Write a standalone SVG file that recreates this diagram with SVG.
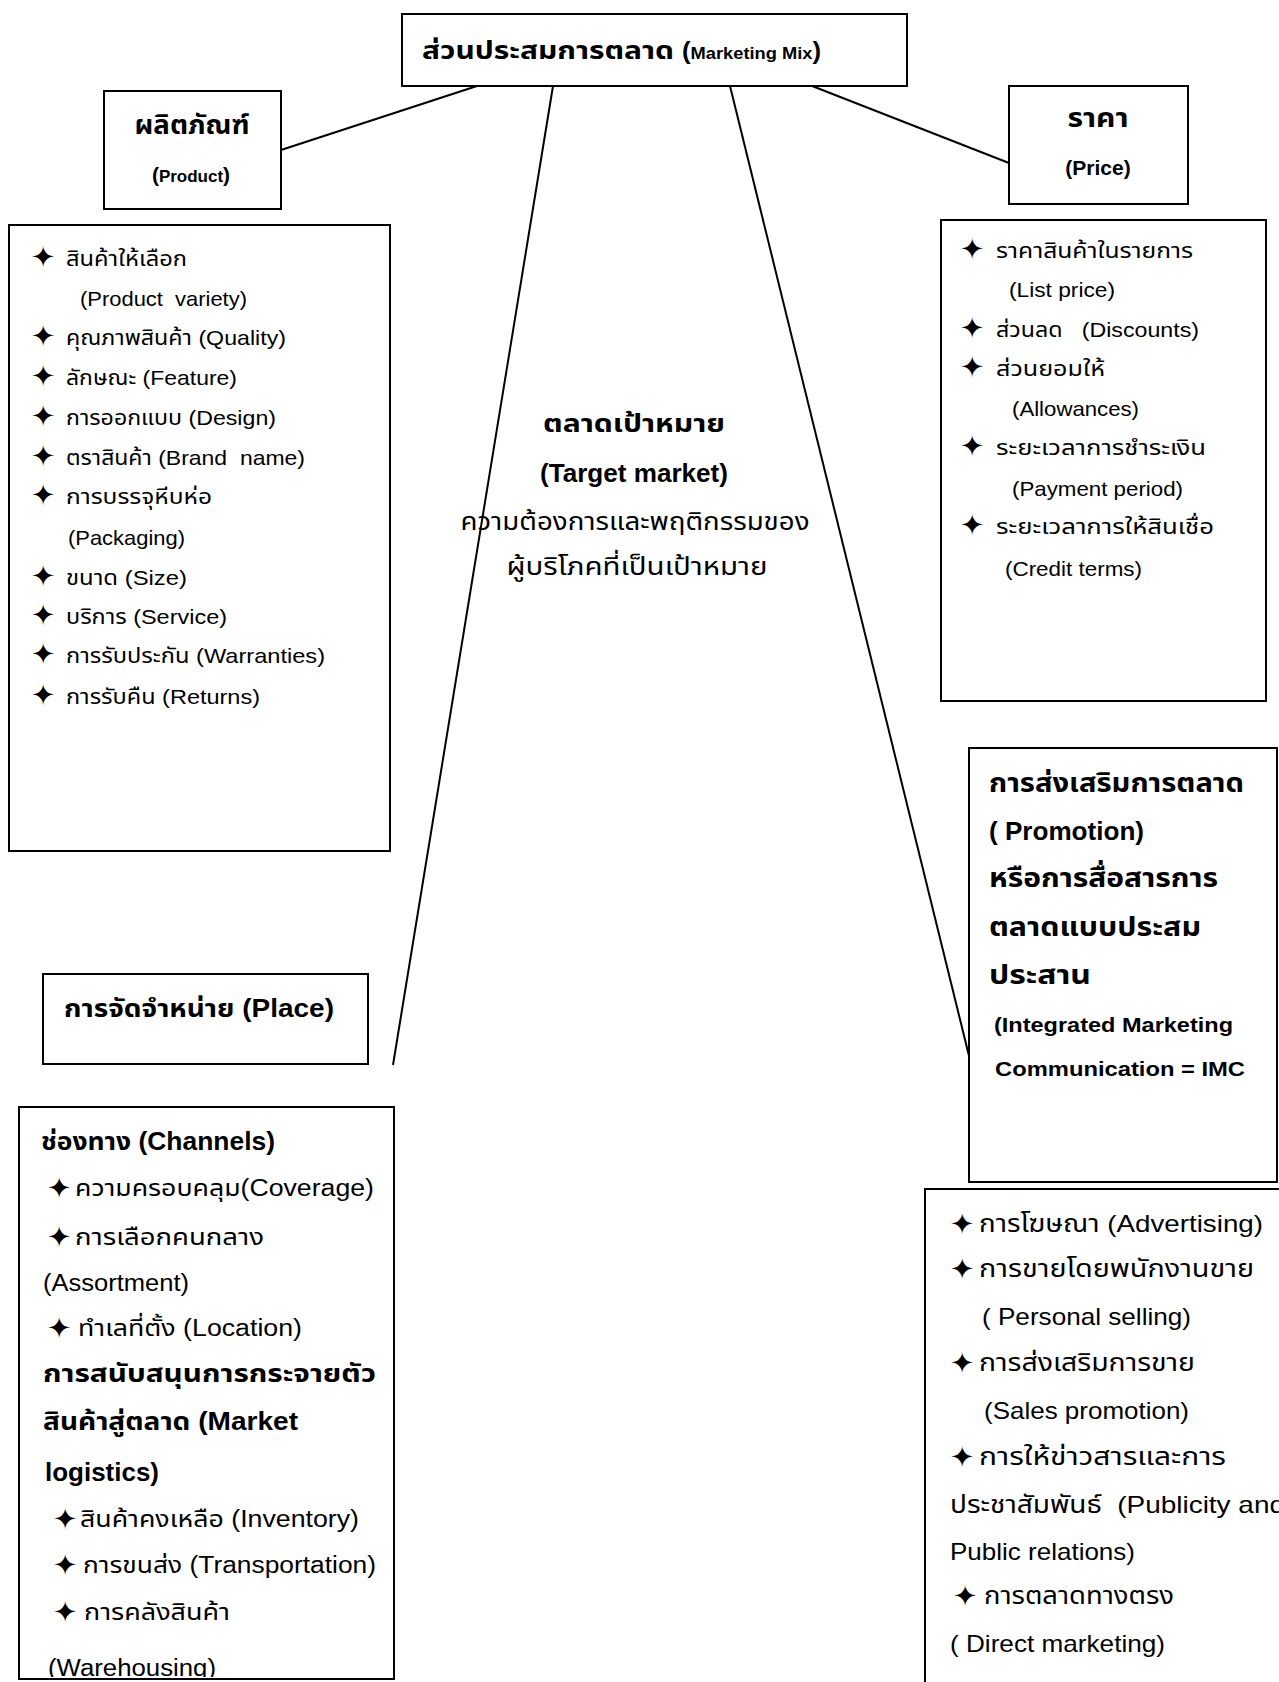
<svg xmlns="http://www.w3.org/2000/svg" width="1279" height="1682" viewBox="0 0 1279 1682">
<style>
.box{fill:#fff;stroke:#000;stroke-width:2}
.frame{fill:none;stroke:#000;stroke-width:2}
.conn{fill:none;stroke:#000;stroke-width:2}
text{font-family:"Liberation Sans","Noto Sans Thai","Noto Sans","DejaVu Sans",sans-serif;fill:#000}
.b{font-weight:bold}
.st{font-family:"DejaVu Sans",sans-serif;font-size:29px}
.mid{text-anchor:middle}
.f21{font-size:21px}
.f23{font-size:23px}
.f24{font-size:24px}
.f25{font-size:25px}
.f26{font-size:26px}
</style>
<defs>
<clipPath id="placeClip"><rect x="19" y="1107" width="375" height="570"/></clipPath>
</defs>
<rect width="1279" height="1682" fill="#fff"/>
<g id="connectors">
<line class="conn" x1="281" y1="150" x2="477" y2="86"/>
<line class="conn" x1="807" y1="84" x2="1009" y2="163"/>
<line class="conn" x1="553" y1="86" x2="393" y2="1065"/>
<line class="conn" x1="730" y1="86" x2="971" y2="1064"/>
</g>
<g id="marketing-mix">
<rect class="box" x="402" y="14" width="505" height="72"/>
<text class="b f25" x="422" y="59" textLength="252" lengthAdjust="spacingAndGlyphs">ส่วนประสมการตลาด</text>
<text class="b" x="682" y="59" textLength="139" lengthAdjust="spacingAndGlyphs"><tspan font-size="24">(</tspan><tspan font-size="17">Marketing Mix</tspan><tspan font-size="24">)</tspan></text>
</g>
<g id="product">
<rect class="box" x="104" y="91" width="177" height="118"/>
<text class="b mid f26" x="192" y="134" textLength="115" lengthAdjust="spacingAndGlyphs">ผลิตภัณฑ์</text>
<text class="b mid" x="191" y="182"><tspan font-size="21">(</tspan><tspan font-size="17">Product</tspan><tspan font-size="21">)</tspan></text>
</g>
<g id="price">
<rect class="box" x="1009" y="86" width="179" height="118"/>
<text class="b mid f26" x="1098" y="127" textLength="61" lengthAdjust="spacingAndGlyphs">ราคา</text>
<text class="b mid f21" x="1098" y="175">(Price)</text>
</g>
<g id="product-list">
<rect class="box" x="9" y="225" width="381" height="626"/>
<g class="st">
<text x="31" y="267">✦</text>
<text x="31" y="346">✦</text>
<text x="31" y="386">✦</text>
<text x="31" y="426">✦</text>
<text x="31" y="466">✦</text>
<text x="31" y="505">✦</text>
<text x="31" y="586">✦</text>
<text x="31" y="625">✦</text>
<text x="31" y="664">✦</text>
<text x="31" y="705">✦</text>
</g>
<g class="f21">
<text x="66" y="266" textLength="121" lengthAdjust="spacingAndGlyphs">สินค้าให้เลือก</text>
<text x="80" y="306" xml:space="preserve" textLength="167" lengthAdjust="spacingAndGlyphs">(Product  variety)</text>
<text x="66" y="345" textLength="220" lengthAdjust="spacingAndGlyphs">คุณภาพสินค้า (Quality)</text>
<text x="66" y="385" textLength="171" lengthAdjust="spacingAndGlyphs">ลักษณะ (Feature)</text>
<text x="66" y="425" textLength="210" lengthAdjust="spacingAndGlyphs">การออกแบบ (Design)</text>
<text x="66" y="465" xml:space="preserve" textLength="239" lengthAdjust="spacingAndGlyphs">ตราสินค้า (Brand  name)</text>
<text x="66" y="504" textLength="146" lengthAdjust="spacingAndGlyphs">การบรรจุหีบห่อ</text>
<text x="68" y="545" textLength="117" lengthAdjust="spacingAndGlyphs">(Packaging)</text>
<text x="66" y="585" textLength="121" lengthAdjust="spacingAndGlyphs">ขนาด (Size)</text>
<text x="66" y="624" textLength="161" lengthAdjust="spacingAndGlyphs">บริการ (Service)</text>
<text x="66" y="663" textLength="259" lengthAdjust="spacingAndGlyphs">การรับประกัน (Warranties)</text>
<text x="66" y="704" textLength="194" lengthAdjust="spacingAndGlyphs">การรับคืน (Returns)</text>
</g>
</g>
<g id="price-list">
<rect class="box" x="941" y="220" width="325" height="481"/>
<g class="st">
<text x="960" y="259">✦</text>
<text x="960" y="338">✦</text>
<text x="960" y="377">✦</text>
<text x="960" y="456">✦</text>
<text x="960" y="535">✦</text>
</g>
<g class="f21">
<text x="996" y="258" textLength="197" lengthAdjust="spacingAndGlyphs">ราคาสินค้าในรายการ</text>
<text x="1009" y="297" textLength="106" lengthAdjust="spacingAndGlyphs">(List price)</text>
<text x="996" y="337" xml:space="preserve" textLength="203" lengthAdjust="spacingAndGlyphs">ส่วนลด   (Discounts)</text>
<text x="996" y="376" textLength="109" lengthAdjust="spacingAndGlyphs">ส่วนยอมให้</text>
<text x="1012" y="416" textLength="127" lengthAdjust="spacingAndGlyphs">(Allowances)</text>
<text x="996" y="455" textLength="210" lengthAdjust="spacingAndGlyphs">ระยะเวลาการชำระเงิน</text>
<text x="1012" y="496" textLength="171" lengthAdjust="spacingAndGlyphs">(Payment period)</text>
<text x="996" y="534" textLength="218" lengthAdjust="spacingAndGlyphs">ระยะเวลาการให้สินเชื่อ</text>
<text x="1005" y="576" textLength="137" lengthAdjust="spacingAndGlyphs">(Credit terms)</text>
</g>
</g>
<g id="target-market">
<text class="b mid f25" x="634" y="432" textLength="182" lengthAdjust="spacingAndGlyphs">ตลาดเป้าหมาย</text>
<text class="b mid f25" x="634" y="482" textLength="188" lengthAdjust="spacingAndGlyphs">(Target market)</text>
<text class="mid f25" x="635" y="530" textLength="349" lengthAdjust="spacingAndGlyphs">ความต้องการและพฤติกรรมของ</text>
<text class="mid f25" x="637" y="575" textLength="261" lengthAdjust="spacingAndGlyphs">ผู้บริโภคที่เป็นเป้าหมาย</text>
</g>
<g id="promotion">
<rect class="box" x="969" y="748" width="308" height="434"/>
<g class="b">
<text class="f26" x="989" y="792" textLength="255" lengthAdjust="spacingAndGlyphs">การส่งเสริมการตลาด</text>
<text class="f25" x="989" y="840" textLength="155" lengthAdjust="spacingAndGlyphs">( Promotion)</text>
<text class="f26" x="989" y="887" textLength="229" lengthAdjust="spacingAndGlyphs">หรือการสื่อสารการ</text>
<text class="f26" x="989" y="936" textLength="212" lengthAdjust="spacingAndGlyphs">ตลาดแบบประสม</text>
<text class="f26" x="989" y="984" textLength="102" lengthAdjust="spacingAndGlyphs">ประสาน</text>
<text class="f21" x="994" y="1032" textLength="239" lengthAdjust="spacingAndGlyphs">(Integrated Marketing</text>
<text class="f21" x="995" y="1076" textLength="250" lengthAdjust="spacingAndGlyphs">Communication = IMC</text>
</g>
</g>
<g id="promotion-list">
<rect class="box" x="925" y="1189" width="370" height="510"/>
<g class="st">
<text x="950" y="1234">✦</text>
<text x="950" y="1279">✦</text>
<text x="950" y="1373">✦</text>
<text x="950" y="1467">✦</text>
<text x="953" y="1606">✦</text>
</g>
<g class="f24">
<text x="979" y="1232" textLength="284" lengthAdjust="spacingAndGlyphs">การโฆษณา (Advertising)</text>
<text x="979" y="1277" textLength="275" lengthAdjust="spacingAndGlyphs">การขายโดยพนักงานขาย</text>
<text x="982" y="1325" textLength="209" lengthAdjust="spacingAndGlyphs">( Personal selling)</text>
<text x="979" y="1371" textLength="216" lengthAdjust="spacingAndGlyphs">การส่งเสริมการขาย</text>
<text x="984" y="1419" textLength="205" lengthAdjust="spacingAndGlyphs">(Sales promotion)</text>
<text x="979" y="1465" textLength="247" lengthAdjust="spacingAndGlyphs">การให้ข่าวสารและการ</text>
<text x="950" y="1513" xml:space="preserve" textLength="335" lengthAdjust="spacingAndGlyphs">ประชาสัมพันธ์  (Publicity and</text>
<text x="950" y="1560" textLength="185" lengthAdjust="spacingAndGlyphs">Public relations)</text>
<text x="984" y="1604" textLength="190" lengthAdjust="spacingAndGlyphs">การตลาดทางตรง</text>
<text x="950" y="1652" textLength="215" lengthAdjust="spacingAndGlyphs">( Direct marketing)</text>
</g>
</g>
<g id="place">
<rect class="box" x="43" y="974" width="325" height="90"/>
<text class="b f25" x="64" y="1017" textLength="270" lengthAdjust="spacingAndGlyphs">การจัดจำหน่าย (Place)</text>
</g>
<g id="place-list">
<rect class="box" x="19" y="1107" width="375" height="572"/>
<text class="b f25" x="41" y="1150" textLength="234" lengthAdjust="spacingAndGlyphs">ช่องทาง (Channels)</text>
<g class="st">
<text x="47" y="1198">✦</text>
<text x="47" y="1247">✦</text>
<text x="47" y="1338">✦</text>
<text x="53" y="1529">✦</text>
<text x="53" y="1575">✦</text>
<text x="53" y="1622">✦</text>
</g>
<g class="f23">
<text x="75" y="1196" textLength="299" lengthAdjust="spacingAndGlyphs">ความครอบคลุม(Coverage)</text>
<text x="75" y="1245" textLength="189" lengthAdjust="spacingAndGlyphs">การเลือกคนกลาง</text>
<text x="43" y="1291" textLength="146" lengthAdjust="spacingAndGlyphs">(Assortment)</text>
<text x="78" y="1336" textLength="224" lengthAdjust="spacingAndGlyphs">ทำเลที่ตั้ง (Location)</text>
</g>
<g class="b f25">
<text x="43" y="1382" textLength="333" lengthAdjust="spacingAndGlyphs">การสนับสนุนการกระจายตัว</text>
<text x="43" y="1430" textLength="255" lengthAdjust="spacingAndGlyphs">สินค้าสู่ตลาด (Market</text>
<text x="45" y="1481" textLength="114" lengthAdjust="spacingAndGlyphs">logistics)</text>
</g>
<g class="f23">
<text x="80" y="1527" textLength="279" lengthAdjust="spacingAndGlyphs">สินค้าคงเหลือ (Inventory)</text>
<text x="83" y="1573" textLength="293" lengthAdjust="spacingAndGlyphs">การขนส่ง (Transportation)</text>
<text x="84" y="1620" textLength="146" lengthAdjust="spacingAndGlyphs">การคลังสินค้า</text>
<text x="48" y="1676" textLength="168" lengthAdjust="spacingAndGlyphs" clip-path="url(#placeClip)">(Warehousing)</text>
</g>
<rect class="frame" x="19" y="1107" width="375" height="572"/>
</g>
</svg>
